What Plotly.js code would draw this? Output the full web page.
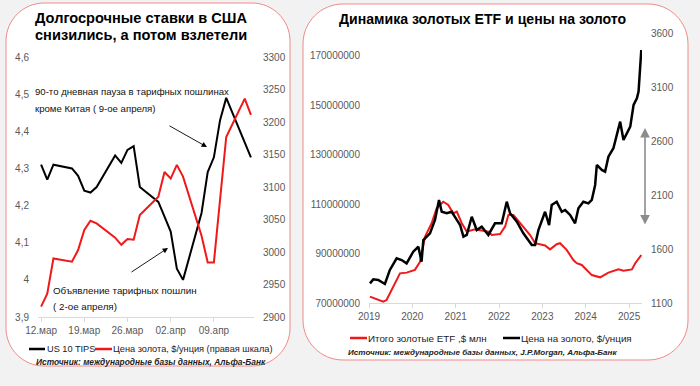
<!DOCTYPE html>
<html><head><meta charset="utf-8">
<script src="https://cdn.plot.ly/plotly-3.0.1.min.js"></script>
<style>html,body{margin:0;padding:0;background:#f2f2f2}#c{width:700px;height:386px}</style>
</head><body><div id="c"></div><script>
// ---------- Left chart: US 10y yield vs gold price (daily) ----------
const dailyDates = ['2025-03-12','2025-03-13','2025-03-14','2025-03-17','2025-03-18','2025-03-19','2025-03-20','2025-03-21',
  '2025-03-24','2025-03-25','2025-03-26','2025-03-27','2025-03-28','2025-03-31','2025-04-01','2025-04-02','2025-04-03',
  '2025-04-04','2025-04-07','2025-04-08','2025-04-09','2025-04-10','2025-04-11','2025-04-14','2025-04-15'];
const tipsYield = [4.31,4.27,4.31,4.30,4.28,4.24,4.235,4.25,4.335,4.315,4.35,4.36,4.25,4.21,4.17,4.13,4.03,
  4.00,4.18,4.29,4.33,4.43,4.49,4.37,4.33];
const goldDaily = [2916,2936,2990,2985,3003,3034,3048,3044,3022,3011,3020,3019,3057,3085,3123,3113,3134,
  3116,3025,2984,2984,3085,3177,3236,3211];
const dailyTickVals = ['2025-03-12','2025-03-19','2025-03-26','2025-04-02','2025-04-09'];
const dailyTickText = ['12.мар','19.мар','26.мар','02.апр','09.апр'];
const yieldTickVals = [3.9,4,4.1,4.2,4.3,4.4,4.5,4.6];
const yieldTickText = ['3,9','4','4,1','4,2','4,3','4,4','4,5','4,6'];
const goldDailyTicks = [2900,2950,3000,3050,3100,3150,3200,3250,3300];

// ---------- Right chart: gold ETF holdings vs gold price ----------
const etfDates = ['2019-01-09','2019-02-20','2019-05-01','2019-05-29','2019-07-24','2019-09-19','2019-11-14','2020-01-23',
  '2020-03-06','2020-04-17','2020-06-12','2020-07-24','2020-09-18','2020-10-30','2020-12-11','2021-01-10','2021-02-21',
  '2021-04-04','2021-06-13','2021-10-03','2021-11-01','2022-01-10','2022-02-21','2022-03-21','2022-05-02','2022-07-12',
  '2022-09-20','2022-11-01','2023-01-24','2023-03-07','2023-05-02','2023-05-30','2023-07-25','2023-09-19','2023-10-18',
  '2023-11-29','2024-02-22','2024-05-02','2024-07-11','2024-10-04','2024-11-15','2025-01-25','2025-02-22','2025-04-14'];
const etfTotal = [72600000,71900000,70500000,71200000,76600000,82000000,82300000,83400000,
  86700000,96800000,102300000,108300000,111000000,109700000,106300000,107000000,102300000,
  98900000,99800000,98900000,97500000,97900000,100900000,105600000,105600000,101600000,
  97500000,94200000,93300000,91700000,93800000,94200000,91500000,87400000,86100000,
  85400000,81300000,80400000,82300000,83600000,83100000,83600000,86100000,89400000];
const priceDates = ['2019-01-09','2019-02-06','2019-03-20','2019-05-15','2019-06-26','2019-08-22','2019-10-03','2019-11-14',
  '2020-01-09','2020-02-21','2020-03-19','2020-04-03','2020-05-29','2020-07-10','2020-08-13','2020-09-05','2020-10-17',
  '2020-11-28','2021-01-10','2021-02-07','2021-03-07','2021-04-04','2021-05-16','2021-06-27','2021-08-08','2021-10-03',
  '2021-11-28','2022-01-24','2022-03-07','2022-04-04','2022-05-31','2022-07-25','2022-10-04','2022-11-01','2022-11-29',
  '2023-01-24','2023-02-27','2023-03-21','2023-05-02','2023-06-14','2023-07-12','2023-08-23','2023-10-04','2023-11-01',
  '2023-12-13','2024-01-24','2024-02-22','2024-03-21','2024-04-04','2024-05-16','2024-06-13','2024-07-11','2024-08-22',
  '2024-09-20','2024-10-18','2024-11-15','2024-12-14','2025-01-11','2025-02-08','2025-03-08','2025-03-22','2025-04-05','2025-04-14'];
const goldPrice = [1282,1319,1313,1276,1406,1514,1498,1467,
  1575,1621,1482,1683,1745,1869,2054,1945,1931,
  1945,1869,1822,1714,1730,1899,1776,1807,1730,
  1838,1838,2038,1931,1853,1745,1637,1637,1776,
  1945,1822,2007,2038,1945,1961,1915,1838,1977,
  2038,2023,2054,2193,2378,2332,2316,2455,2533,
  2671,2779,2609,2671,2733,2934,2996,3057,3320,3443];
const yearTickVals = ['2019-01-01','2020-01-01','2021-01-01','2022-01-01','2023-01-01','2024-01-01','2025-01-01'];
const yearTickText = ['2019','2020','2021','2022','2023','2024','2025'];
const etfTicks = [70000000,90000000,110000000,130000000,150000000,170000000];
const priceTicks = [1100,1600,2100,2600,3100,3600];

// ---------- helpers ----------
const W=700,H=386;
const px=x=>x/W, py=y=>1-y/H;
function roundRect(x0,y0,x1,y1,r){
  const k=0.5523*r;
  const P=(x,y)=>px(x).toFixed(5)+','+py(y).toFixed(5);
  return 'M'+P(x0+r,y0)+' L'+P(x1-r,y0)+' C'+P(x1-r+k,y0)+' '+P(x1,y0+r-k)+' '+P(x1,y0+r)+
    ' L'+P(x1,y1-r)+' C'+P(x1,y1-r+k)+' '+P(x1-r+k,y1)+' '+P(x1-r,y1)+
    ' L'+P(x0+r,y1)+' C'+P(x0+r-k,y1)+' '+P(x0,y1-r+k)+' '+P(x0,y1-r)+
    ' L'+P(x0,y0+r)+' C'+P(x0,y0+r-k)+' '+P(x0+r-k,y0)+' '+P(x0+r,y0)+' Z';
}
const FONT='Liberation Sans, Arial, sans-serif';
const tickFont={family:FONT,size:10,color:'#595959'};
const RED='#f01818';

const traces=[
  {x:dailyDates,y:tipsYield,type:'scatter',mode:'lines',line:{color:'#000',width:2},xaxis:'x',yaxis:'y',name:'US 10 TIPS'},
  {x:dailyDates,y:goldDaily,type:'scatter',mode:'lines',line:{color:RED,width:2},xaxis:'x',yaxis:'y2',name:'Цена золота, $/унция (правая шкала)'},
  {x:etfDates,y:etfTotal,type:'scatter',mode:'lines',line:{color:RED,width:2},xaxis:'x2',yaxis:'y3',name:'Итого золотые ETF ,$ млн'},
  {x:priceDates,y:goldPrice,type:'scatter',mode:'lines',line:{color:'#000',width:2.5},xaxis:'x2',yaxis:'y4',name:'Цена на золото, $/унция'}
];

const ann=[];
function txt(t,x,y,size,color,opts){ann.push(Object.assign({text:t,x:px(x),y:py(y),xref:'paper',yref:'paper',showarrow:false,
  xanchor:'left',yanchor:'middle',font:{family:FONT,size:size,color:color}},opts||{}));}
txt('<b>Долгосрочные ставки в США</b>',33,18,14.6,'#000');
txt('<b>снизились, а потом взлетели</b>',33,35,14.6,'#000');
txt('<b>Динамика золотых ETF и цены на золото</b>',483,19,14.1,'#000',{xanchor:'center'});
txt('90-то дневная пауза в тарифных пошлинах',33,92,9.6,'#111');
txt('кроме Китая ( 9-ое апреля)',33,108,9.6,'#111');
txt('Объявление тарифных пошлин',51,290,9.8,'#111');
txt('( 2-ое апреля)',51,306,9.8,'#111');
txt('US 10 TIPS',45,349,9.2,'#222');
txt('Цена золота, $/унция (правая шкала)',111,349,9.2,'#222');
txt('Итого золотые ETF ,$ млн',366,338,9.8,'#222');
txt('Цена на золото, $/унция',519,338,9.8,'#222');
txt('<b><i>Источник: международные базы данных, Альфа-Банк</i></b>',34,362,8.4,'#222');
txt('<b><i>Источник: международные базы данных, J.P.Morgan, Альфа-Банк</i></b>',346,352,8.1,'#222');
// arrows
function arrow(tx,ty,hx,hy,color,width,side){ann.push({text:'',x:px(hx),y:py(hy),xref:'paper',yref:'paper',showarrow:true,
  ax:tx-hx,ay:ty-hy,arrowcolor:color,arrowwidth:width,arrowhead:2,arrowsize:1.2,arrowside:side||'end',standoff:0,startstandoff:0});}
arrow(168,125,207,147,'#000',0.9);
arrow(130,273,168,248,'#000',0.9);
arrow(645,226,645,128,'#8c8c8c',1.6,'end+start');

const shapes=[
  {type:'path',path:roundRect(6,3,290,366,38),xref:'paper',yref:'paper',fillcolor:'#fff',line:{color:'#f08a8a',width:1},layer:'below'},
  {type:'path',path:roundRect(303,4,688,360,40),xref:'paper',yref:'paper',fillcolor:'#fff',line:{color:'#f08a8a',width:1},layer:'below'},
  {type:'line',xref:'paper',yref:'paper',x0:px(29),x1:px(45),y0:py(349),y1:py(349),line:{color:'#000',width:2.5}},
  {type:'line',xref:'paper',yref:'paper',x0:px(95),x1:px(112),y0:py(349),y1:py(349),line:{color:RED,width:2.5}},
  {type:'line',xref:'paper',yref:'paper',x0:px(350),x1:px(367),y0:py(338),y1:py(338),line:{color:RED,width:2.5}},
  {type:'line',xref:'paper',yref:'paper',x0:px(503),x1:px(520),y0:py(338),y1:py(338),line:{color:'#000',width:2.5}}
];

const xBase={type:'date',showgrid:false,zeroline:false,showline:true,linecolor:'#d9d9d9',linewidth:1,
  ticks:'outside',ticklen:4,tickcolor:'#d9d9d9',tickfont:tickFont,tickmode:'array',fixedrange:true};
const yBase={showgrid:false,zeroline:false,showline:false,ticks:'',tickfont:tickFont,tickmode:'array',ticklabelstandoff:8,fixedrange:true};

const layout={
  width:W,height:H,margin:{l:0,r:0,t:0,b:0},paper_bgcolor:'#f2f2f2',plot_bgcolor:'rgba(0,0,0,0)',showlegend:false,
  font:{family:FONT},
  xaxis:Object.assign({},xBase,{domain:[px(38),px(254)],range:['2025-03-11 12:00','2025-04-15 12:00'],
    tickvals:dailyTickVals,ticktext:dailyTickText,anchor:'y'}),
  yaxis:Object.assign({},yBase,{domain:[py(317),py(57)],range:[3.9,4.6],tickvals:yieldTickVals,ticktext:yieldTickText,anchor:'x'}),
  yaxis2:Object.assign({},yBase,{domain:[py(317),py(57)],range:[2900,3300],tickvals:goldDailyTicks,
    ticktext:goldDailyTicks.map(String),overlaying:'y',side:'right',anchor:'x'}),
  xaxis2:Object.assign({},xBase,{domain:[px(369),px(642)],range:['2019-01-01','2025-04-20'],
    tickvals:yearTickVals,ticktext:yearTickText,anchor:'y3'}),
  yaxis3:Object.assign({},yBase,{domain:[py(303),py(33)],range:[70000000,179300000],tickvals:etfTicks,
    ticktext:etfTicks.map(String),anchor:'x2'}),
  yaxis4:Object.assign({},yBase,{domain:[py(303),py(33)],range:[1100,3600],tickvals:priceTicks,
    ticktext:priceTicks.map(String),overlaying:'y3',side:'right',anchor:'x2'}),
  annotations:ann,shapes:shapes
};
Plotly.newPlot('c',traces,layout,{staticPlot:true,displayModeBar:false});
</script></body></html>
